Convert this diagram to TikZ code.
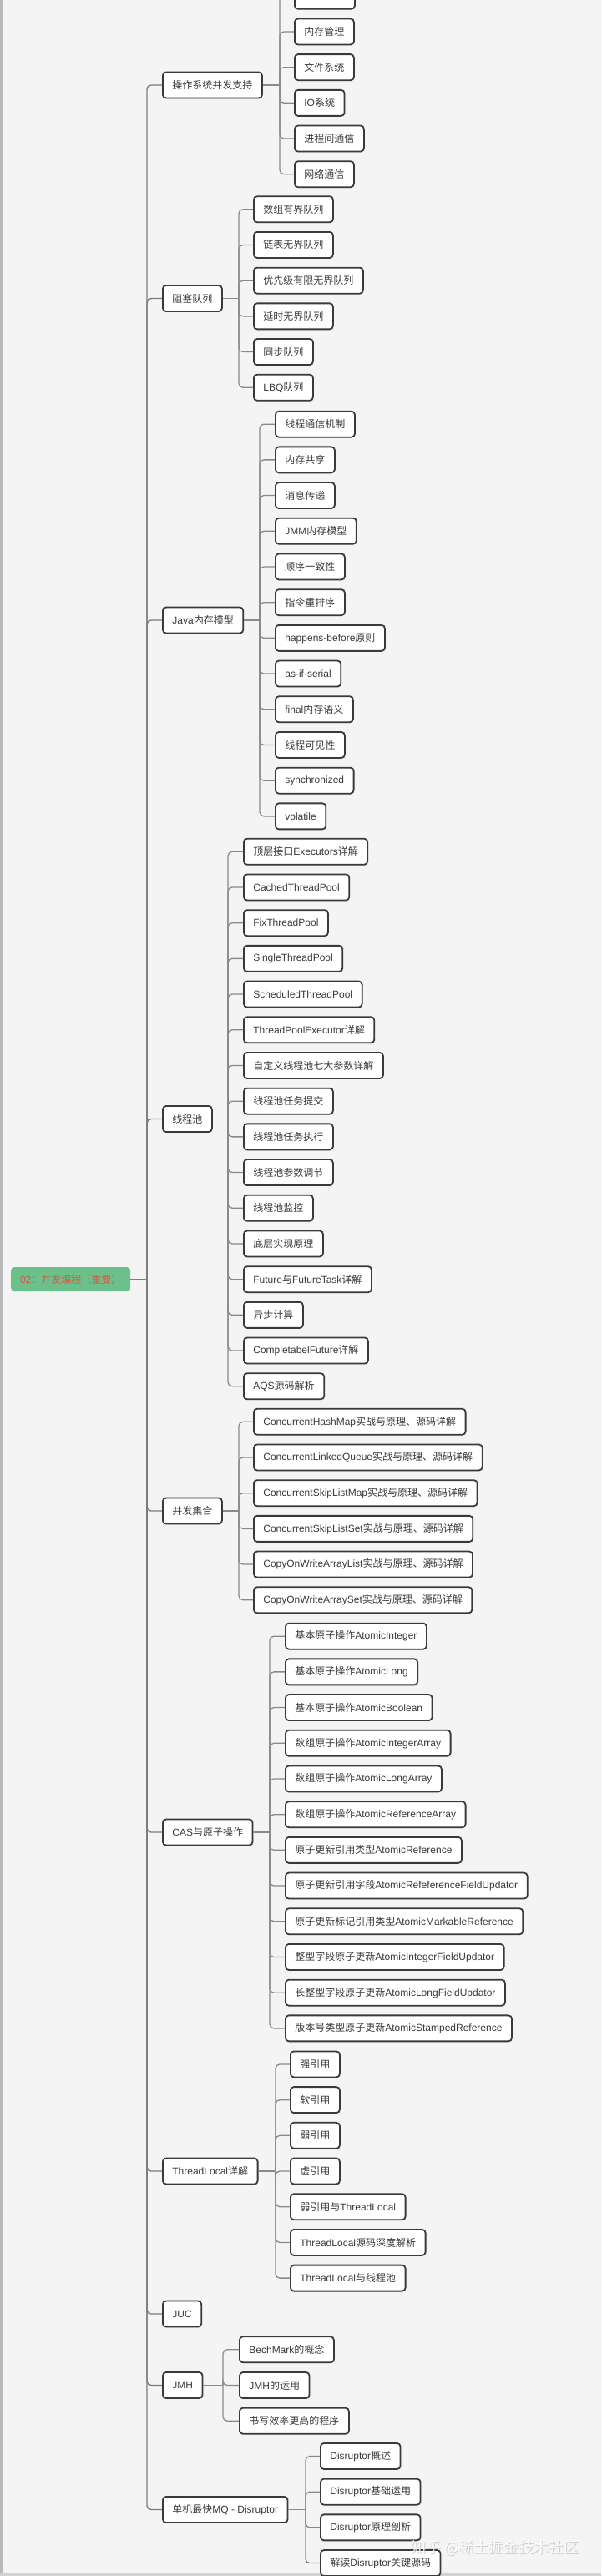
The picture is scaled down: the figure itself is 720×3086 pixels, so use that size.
\documentclass[tikz,border=0pt]{standalone}
\usepackage{fontspec}
\setmainfont{Liberation Sans}
\newfontfamily\cj{Noto Sans CJK SC}
\newcommand\zh[1]{{\cj #1}}
\usetikzlibrary{shadows}
\definecolor{bgc}{HTML}{F4F4F4}
\definecolor{boxc}{HTML}{3A3A3A}
\definecolor{txt}{HTML}{3A3A3A}
\definecolor{linec}{HTML}{8A8A8A}
\definecolor{rootfill}{HTML}{6CC08B}
\definecolor{roottxt}{HTML}{E0553D}
\begin{document}
\begin{tikzpicture}[x=1pt,y=-1pt,
  box/.style={draw=boxc, line width=1.8pt, rounded corners=4pt, fill=white, text=txt,
    font=\fontsize{12}{14}\selectfont, minimum height=31pt, inner xsep=11.5pt, inner ysep=0pt,
    anchor=west, drop shadow={opacity=0.12, shadow xshift=0.8pt, shadow yshift=-1pt}},
  conn/.style={draw=linec, line width=1.3pt, rounded corners=5pt},
  trunk/.style={draw=linec!90!black, line width=1.4pt, rounded corners=5pt}]
\useasboundingbox (0,0) rectangle (720,3086);
\clip (0,0) rectangle (720,3086);
\fill[bgc] (0,0) rectangle (720,3086);
\fill[gray!55] (0,0) rectangle (2.5,3086);
\fill[gray!35] (0,3083) rectangle (720,3086);

% root
\node[fill=rootfill, rounded corners=4pt, text=roottxt, font=\fontsize{12}{14}\selectfont,
  minimum width=143pt, minimum height=29pt, inner sep=0pt, anchor=west] (root) at (13,1532.5)
  {02\zh{：并发编程（重要）}};
\coordinate (tr) at (176,1532.5);
\draw[trunk] (root.east) -- (tr);

% level 1
\node[box] (os)  at (194,102)    {\zh{操作系统并发支持}};
\node[box] (bq)  at (194,357.5)  {\zh{阻塞队列}};
\node[box] (jmm) at (194,743)    {Java\zh{内存模型}};
\node[box] (tp)  at (194,1340.5) {\zh{线程池}};
\node[box] (cc)  at (194,1810)   {\zh{并发集合}};
\node[box] (cas) at (194,2195)   {CAS\zh{与原子操作}};
\node[box] (tl)  at (194,2601)   {ThreadLocal\zh{详解}};
\node[box] (juc) at (194,2772)   {JUC};
\node[box] (jmh) at (194,2857.5) {JMH};
\node[box] (mq)  at (194,3006.5) {\zh{单机最快}MQ - Disruptor};
\foreach \n in {os,bq,jmm,tp,cc,cas,tl,juc,jmh,mq} {\draw[trunk] (tr) |- (\n.west);}

% group 1
\coordinate (b1) at (335,102);
\draw[conn] (os.east) -- (b1);
\node[box, minimum width=72pt] (g1-0) at (352,-4.75) {};
\draw[conn] (b1) |- (g1-0.west);
\foreach \t [count=\i] in {{\zh{内存管理}},{\zh{文件系统}},{IO\zh{系统}},{\zh{进程间通信}},{\zh{网络通信}}}
  {\node[box] (g1-\i) at (352,{-4.75+42.7*\i}) {\t}; \draw[conn] (b1) |- (g1-\i.west);}

% group 2
\coordinate (b2) at (286,357.5);
\draw[conn] (bq.east) -- (b2);
\foreach \t [count=\i from 0] in {{\zh{数组有界队列}},{\zh{链表无界队列}},{\zh{优先级有限无界队列}},{\zh{延时无界队列}},{\zh{同步队列}},{LBQ\zh{队列}}}
  {\node[box] (g2-\i) at (303,{250.75+42.7*\i}) {\t}; \draw[conn] (b2) |- (g2-\i.west);}

% group 3
\coordinate (b3) at (311,743);
\draw[conn] (jmm.east) -- (b3);
\foreach \t [count=\i from 0] in {{\zh{线程通信机制}},{\zh{内存共享}},{\zh{消息传递}},{JMM\zh{内存模型}},{\zh{顺序一致性}},{\zh{指令重排序}},{happens-before\zh{原则}},{as-if-serial},{final\zh{内存语义}},{\zh{线程可见性}},{synchronized},{volatile}}
  {\node[box] (g3-\i) at (329,{508.15+42.7*\i}) {\t}; \draw[conn] (b3) |- (g3-\i.west);}

% group 4
\coordinate (b4) at (273,1340.5);
\draw[conn] (tp.east) -- (b4);
\foreach \t [count=\i from 0] in {{\zh{顶层接口}Executors\zh{详解}},{CachedThreadPool},{FixThreadPool},{SingleThreadPool},{ScheduledThreadPool},{ThreadPoolExecutor\zh{详解}},{\zh{自定义线程池七大参数详解}},{\zh{线程池任务提交}},{\zh{线程池任务执行}},{\zh{线程池参数调节}},{\zh{线程池监控}},{\zh{底层实现原理}},{Future\zh{与}FutureTask\zh{详解}},{\zh{异步计算}},{CompletabelFuture\zh{详解}},{AQS\zh{源码解析}}}
  {\node[box] (g4-\i) at (291,{1020.25+42.7*\i}) {\t}; \draw[conn] (b4) |- (g4-\i.west);}

% group 5
\coordinate (b5) at (286,1810);
\draw[conn] (cc.east) -- (b5);
\foreach \t [count=\i from 0] in {{ConcurrentHashMap\zh{实战与原理、源码详解}},{ConcurrentLinkedQueue\zh{实战与原理、源码详解}},{ConcurrentSkipListMap\zh{实战与原理、源码详解}},{ConcurrentSkipListSet\zh{实战与原理、源码详解}},{CopyOnWriteArrayList\zh{实战与原理、源码详解}},{CopyOnWriteArraySet\zh{实战与原理、源码详解}}}
  {\node[box] (g5-\i) at (303,{1703.25+42.7*\i}) {\t}; \draw[conn] (b5) |- (g5-\i.west);}

% group 6
\coordinate (b6) at (323,2195);
\draw[conn] (cas.east) -- (b6);
\foreach \t [count=\i from 0] in {{\zh{基本原子操作}AtomicInteger},{\zh{基本原子操作}AtomicLong},{\zh{基本原子操作}AtomicBoolean},{\zh{数组原子操作}AtomicIntegerArray},{\zh{数组原子操作}AtomicLongArray},{\zh{数组原子操作}AtomicReferenceArray},{\zh{原子更新引用类型}AtomicReference},{\zh{原子更新引用字段}AtomicRefeferenceFieldUpdator},{\zh{原子更新标记引用类型}AtomicMarkableReference},{\zh{整型字段原子更新}AtomicIntegerFieldUpdator},{\zh{长整型字段原子更新}AtomicLongFieldUpdator},{\zh{版本号类型原子更新}AtomicStampedReference}}
  {\node[box] (g6-\i) at (341,{1960.15+42.7*\i}) {\t}; \draw[conn] (b6) |- (g6-\i.west);}

% group 7
\coordinate (b7) at (330,2601);
\draw[conn] (tl.east) -- (b7);
\foreach \t [count=\i from 0] in {{\zh{强引用}},{\zh{软引用}},{\zh{弱引用}},{\zh{虚引用}},{\zh{弱引用与}ThreadLocal},{ThreadLocal\zh{源码深度解析}},{ThreadLocal\zh{与线程池}}}
  {\node[box] (g7-\i) at (347,{2472.9+42.7*\i}) {\t}; \draw[conn] (b7) |- (g7-\i.west);}

% group 9
\coordinate (b9) at (267,2857.5);
\draw[conn] (jmh.east) -- (b9);
\foreach \t [count=\i from 0] in {{BechMark\zh{的概念}},{JMH\zh{的运用}},{\zh{书写效率更高的程序}}}
  {\node[box] (g9-\i) at (286,{2814.8+42.7*\i}) {\t}; \draw[conn] (b9) |- (g9-\i.west);}

% group 10
\coordinate (b10) at (366,3006.5);
\draw[conn] (mq.east) -- (b10);
\foreach \t [count=\i from 0] in {{Disruptor\zh{概述}},{Disruptor\zh{基础运用}},{Disruptor\zh{原理剖析}},{\zh{解读}Disruptor\zh{关键源码}}}
  {\node[box] (g10-\i) at (383,{2942.45+42.7*\i}) {\t}; \draw[conn] (b10) |- (g10-\i.west);}

% watermark
\node[text=gray!60, opacity=0.6, font=\fontsize{18}{20}\selectfont, anchor=west] at (490,3053.2)
  {\zh{知乎 @稀土掘金技术社区}};
\node[text=white, opacity=0.85, font=\fontsize{18}{20}\selectfont, anchor=west] (wm) at (489,3052)
  {\zh{知乎 @稀土掘金技术社区}};
\end{tikzpicture}
\end{document}
